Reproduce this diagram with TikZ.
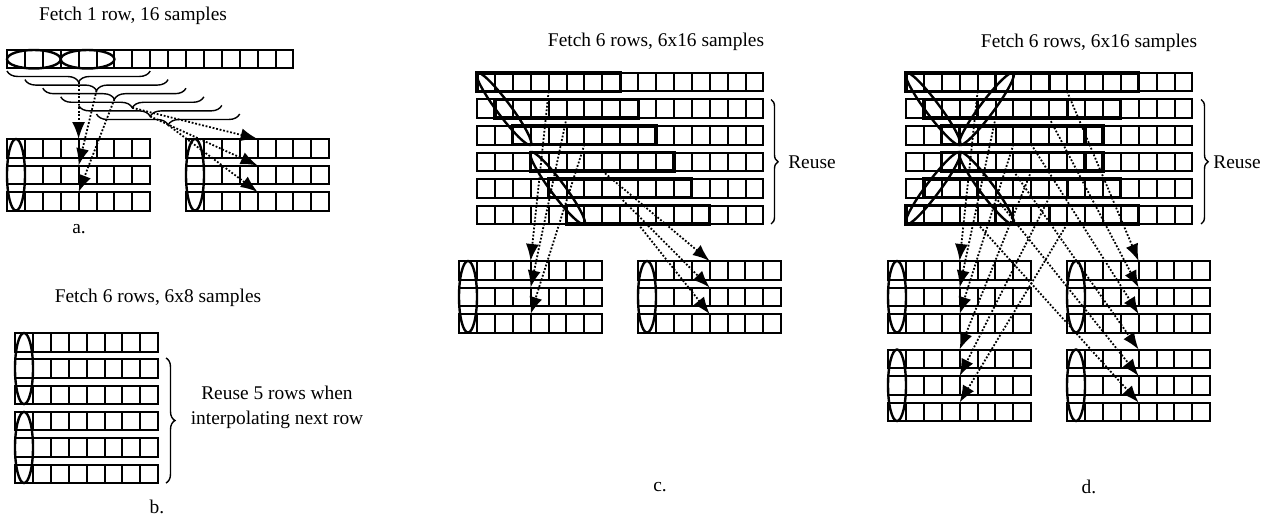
\documentclass[tikz,border=0pt]{standalone}
\usepackage{fontspec}
\setmainfont{Liberation Serif}
\usetikzlibrary{arrows.meta,decorations.pathreplacing}
\newcommand{\cellrow}[3]{\foreach \k in {1,...,#3}{\draw[cell] ({#1+(\k-1)*17.9},{#2}) rectangle ++(17.9,18.5);}}
\begin{document}
\begin{tikzpicture}[x=0.5pt,y=-0.5pt,
  cell/.style={draw=black,line width=1pt},
  boldbox/.style={draw=black,line width=1.6pt},
  oval/.style={draw=black,line width=1.2pt},
  arr/.style={line width=0.9pt,dash pattern=on 0.9pt off 0.9pt,-{Latex[length=8.5pt,width=6.5pt]}},
  lbl/.style={font=\fontsize{9.7}{12.5}\selectfont,inner sep=0pt},
  brc/.style={decorate,decoration={brace,amplitude=#1},line width=0.7pt},
]
\useasboundingbox (0,0) rectangle (1272,519);

% ================= a =================
\node[lbl] (ta) at (133,16) {Fetch 1 row, 16 samples};
\cellrow{7}{50}{16}
\draw[oval] (33.85,59.25) ellipse [x radius=26.85, y radius=9.25];
\draw[oval] (87.55,59.25) ellipse [x radius=26.85, y radius=9.25];
\foreach \i in {0,...,5}{
  \draw[brc=5.5pt] ({7+(\i+8)*17.9},{71+8.6*\i}) -- ({7+\i*17.9},{71+8.6*\i});
  \coordinate (at\i) at ({7+(\i+4)*17.9},{82+8.6*\i});
}
\foreach \r in {0,1,2}{
  \cellrow{7}{139+26.5*\r}{8}
  \cellrow{186}{139+26.5*\r}{8}
  \coordinate (al\r) at ({7+4*17.9},{139+26.5*\r});
  \coordinate (ar\r) at ({186+4*17.9},{139+26.5*\r});
}
\draw[oval] (16,174.75) ellipse [x radius=9, y radius=35.75];
\draw[oval] (195,174.75) ellipse [x radius=9, y radius=35.75];
\draw[arr] (at0) -- (al0);
\draw[arr] (at1) -- (al1);
\draw[arr] (at2) -- (al2);
\draw[arr] (at3) -- (ar0);
\draw[arr] (at4) -- (ar1);
\draw[arr] (at5) -- (ar2);
\node[lbl] (la) at (79,229) {a.};

% ================= b =================
\node[lbl] (tb) at (158,298) {Fetch 6 rows, 6x8 samples};
\foreach \r in {0,...,5}{
  \cellrow{15}{333+26.3*\r}{8}
}
\draw[oval] (24,368.55) ellipse [x radius=9, y radius=35.55];
\draw[oval] (24,447.45) ellipse [x radius=9, y radius=35.55];
\draw[brc=4.5pt] (166,358) -- (166,483);
\node[lbl,align=center] (rb) at (277,407) {Reuse 5 rows when\\interpolating next row};
\node[lbl] (lb) at (157,507) {b.};

% ================= c =================
\node[lbl] (tc) at (656,42) {Fetch 6 rows, 6x16 samples};
\foreach \r in {0,...,5}{
  \cellrow{477}{73+26.5*\r}{16}
  \draw[boldbox] ({477+\r*17.9},{73+26.5*\r}) rectangle ++(143.2,18.5);
  \coordinate (cs\r) at ({477+(\r+4)*17.9},{91.5+26.5*\r});
}
\draw[oval,shift={(503.85,108.75)},rotate=-53.3] (0,0) ellipse [x radius=45, y radius=7];
\draw[oval,shift={(557.55,188.25)},rotate=-53.3] (0,0) ellipse [x radius=45, y radius=7];
\foreach \r in {0,1,2}{
  \cellrow{459}{261+26.5*\r}{8}
  \cellrow{638}{261+26.5*\r}{8}
  \coordinate (cl\r) at ({459+4*17.9},{261+26.5*\r});
  \coordinate (cr\r) at ({638+4*17.9},{261+26.5*\r});
}
\draw[oval] (468,296.75) ellipse [x radius=9, y radius=35.75];
\draw[oval] (647,296.75) ellipse [x radius=9, y radius=35.75];
\draw[arr] (cs0) -- (cl0);
\draw[arr] (cs1) -- (cl1);
\draw[arr] (cs2) -- (cl2);
\draw[arr] (cs3) -- (cr0);
\draw[arr] (cs4) -- (cr1);
\draw[arr] (cs5) -- (cr2);
\draw[brc=3.5pt] (771,99.5) -- (771,224);
\node[lbl] (rc) at (812,162) {Reuse};
\node[lbl] (lc) at (660,487) {c.};

% ================= d =================
\node[lbl] (td) at (1089,43) {Fetch 6 rows, 6x16 samples};
\foreach \r in {0,...,5}{
  \pgfmathtruncatemacro{\lo}{min(\r,5-\r)}
  \pgfmathtruncatemacro{\hi}{5-\lo}
  \cellrow{906}{73+26.5*\r}{16}
  \draw[boldbox] ({906+\lo*17.9},{73+26.5*\r}) rectangle ++(143.2,18.5);
  \draw[boldbox] ({906+\hi*17.9},{73+26.5*\r}) rectangle ++(143.2,18.5);
  \coordinate (dsl\r) at ({906+(\lo+4)*17.9},{91.5+26.5*\r});
  \coordinate (dsr\r) at ({906+(\hi+4)*17.9},{91.5+26.5*\r});
}
\draw[oval,shift={(932.85,108.75)},rotate=-53.3] (0,0) ellipse [x radius=45, y radius=7];
\draw[oval,shift={(986.55,108.75)},rotate=53.3] (0,0) ellipse [x radius=45, y radius=7];
\draw[oval,shift={(932.85,188.25)},rotate=53.3] (0,0) ellipse [x radius=45, y radius=7];
\draw[oval,shift={(986.55,188.25)},rotate=-53.3] (0,0) ellipse [x radius=45, y radius=7];
\foreach \r in {0,1,2}{
  \cellrow{888}{261+26.5*\r}{8}
  \cellrow{1067}{261+26.5*\r}{8}
  \cellrow{888}{349.5+26.5*\r}{8}
  \cellrow{1067}{349.5+26.5*\r}{8}
  \coordinate (dtl\r) at ({888+4*17.9},{261+26.5*\r});
  \coordinate (dtr\r) at ({1067+4*17.9},{261+26.5*\r});
  \coordinate (dbl\r) at ({888+4*17.9},{349.5+26.5*\r});
  \coordinate (dbr\r) at ({1067+4*17.9},{349.5+26.5*\r});
}
\draw[oval] (897,296.75) ellipse [x radius=9, y radius=35.75];
\draw[oval] (1076,296.75) ellipse [x radius=9, y radius=35.75];
\draw[oval] (897,385.25) ellipse [x radius=9, y radius=35.75];
\draw[oval] (1076,385.25) ellipse [x radius=9, y radius=35.75];
\draw[arr] (dsl0) -- (dtl0);
\draw[arr] (dsl1) -- (dtl1);
\draw[arr] (dsl2) -- (dtl2);
\draw[arr] (dsr0) -- (dtr0);
\draw[arr] (dsr1) -- (dtr1);
\draw[arr] (dsr2) -- (dtr2);
\draw[arr] (dsr3) -- (dbl0);
\draw[arr] (dsr4) -- (dbl1);
\draw[arr] (dsr5) -- (dbl2);
\draw[arr] (dsl3) -- (dbr0);
\draw[arr] (dsl4) -- (dbr1);
\draw[arr] (dsl5) -- (dbr2);
\draw[brc=3.5pt] (1201,99.5) -- (1201,224);
\node[lbl] (rd) at (1237,162) {Reuse};
\node[lbl] (ld) at (1089,487) {d.};
\end{tikzpicture}
\end{document}
